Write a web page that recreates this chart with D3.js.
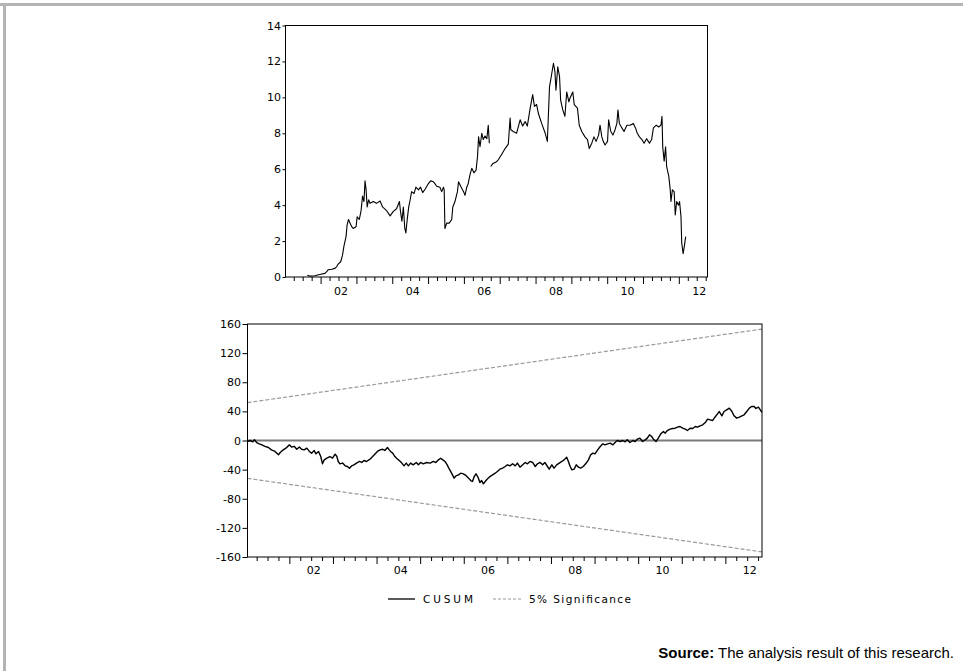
<!DOCTYPE html>
<html>
<head>
<meta charset="utf-8">
<script src="https://cdn.jsdelivr.net/npm/d3@7"></script>
<style>
  html, body { margin: 0; padding: 0; background: #fff; }
  svg { display: block; }
</style>
</head>
<body>
<svg id="chart" width="963" height="671"></svg>
<script>
// ---------------- DATA ----------------
// Top panel: series level (decimal year, value); null marks a gap in the line
const topYears = [2001.63,2001.70,2001.84,2002.00,2002.12,2002.17,2002.21,2002.31,2002.40,2002.45,2002.49,2002.56,2002.61,2002.65,2002.71,2002.74,2002.78,2002.82,2002.87,2002.91,2002.99,2003.02,2003.08,2003.13,2003.17,2003.21,2003.24,2003.27,2003.30,2003.34,2003.38,2003.47,2003.56,2003.66,2003.73,2003.84,2003.94,2004.03,2004.12,2004.20,2004.23,2004.27,2004.31,2004.35,2004.38,2004.42,2004.46,2004.50,2004.54,2004.61,2004.66,2004.73,2004.79,2004.85,2004.92,2005.01,2005.07,2005.15,2005.19,2005.24,2005.33,2005.38,2005.43,2005.45,2005.47,2005.52,2005.59,2005.66,2005.69,2005.75,2005.82,2005.85,2005.91,2005.99,2006.03,2006.08,2006.12,2006.17,2006.22,2006.28,2006.34,2006.38,2006.41,2006.45,2006.50,2006.54,2006.59,2006.64,2006.68,2006.71,2006.73,2006.75,2006.80,2006.90,2006.97,2007.06,2007.15,2007.24,2007.29,2007.31,2007.38,2007.47,2007.57,2007.64,2007.71,2007.77,2007.85,2007.92,2007.97,2008.03,2008.08,2008.17,2008.27,2008.33,2008.39,2008.43,2008.50,2008.54,2008.57,2008.62,2008.67,2008.70,2008.76,2008.82,2008.87,2008.93,2008.96,2009.04,2009.08,2009.17,2009.22,2009.29,2009.38,2009.45,2009.50,2009.57,2009.63,2009.69,2009.76,2009.80,2009.85,2009.89,2009.94,2010.01,2010.04,2010.10,2010.16,2010.22,2010.27,2010.30,2010.34,2010.41,2010.47,2010.55,2010.64,2010.73,2010.79,2010.84,2010.90,2010.97,2011.03,2011.10,2011.18,2011.24,2011.29,2011.37,2011.44,2011.50,2011.53,2011.55,2011.59,2011.63,2011.66,2011.72,2011.76,2011.78,2011.82,2011.87,2011.90,2011.94,2011.99,2012.02,2012.06,2012.08,2012.12,2012.16,2012.19];
const topValues = [0.10,0.05,0.07,0.15,0.20,0.30,0.40,0.43,0.48,0.58,0.72,0.85,1.20,1.70,2.25,2.90,3.20,3.00,2.80,2.70,2.80,3.35,3.20,3.70,4.50,4.20,5.35,4.85,3.90,4.30,4.10,4.20,4.10,4.23,3.90,3.70,3.40,3.65,3.80,4.20,3.65,3.10,3.90,2.70,2.45,3.25,3.90,4.30,4.75,4.65,5.00,4.85,5.00,4.70,4.90,5.20,5.35,5.30,5.20,5.05,5.00,4.75,5.00,4.85,2.70,3.00,3.00,3.20,3.90,4.20,4.75,5.30,5.05,4.75,4.55,5.00,5.20,5.70,6.05,5.80,5.95,6.70,7.80,7.25,8.00,7.65,7.85,7.70,8.45,7.45,null,6.15,6.30,6.40,6.55,6.85,7.15,7.40,8.85,8.20,8.10,8.00,8.75,8.40,8.65,8.40,9.40,10.15,9.50,9.60,9.10,8.55,8.00,7.55,10.60,11.05,11.90,11.45,10.40,11.70,11.15,9.85,9.30,8.95,10.30,9.75,9.95,10.30,9.60,9.40,8.45,8.10,7.80,7.65,7.15,7.45,7.80,7.55,7.90,8.45,7.80,7.55,7.35,7.55,8.75,8.10,7.90,8.20,8.55,9.30,8.55,8.30,8.10,8.45,8.45,8.55,8.30,8.00,7.80,7.65,7.45,7.70,7.45,7.65,8.30,8.45,8.35,8.45,8.95,7.25,6.45,7.25,6.15,5.60,4.85,4.20,4.85,4.75,3.45,4.20,4.00,4.20,3.35,1.90,1.30,1.80,2.25];

// Bottom panel: CUSUM (decimal year, value)
const cusumYears = [2001.04,2001.10,2001.16,2001.20,2001.25,2001.31,2001.37,2001.44,2001.52,2001.59,2001.67,2001.75,2001.79,2001.86,2001.92,2002.00,2002.05,2002.11,2002.17,2002.23,2002.28,2002.34,2002.40,2002.46,2002.51,2002.57,2002.61,2002.67,2002.72,2002.76,2002.80,2002.86,2002.93,2002.99,2003.05,2003.09,2003.12,2003.16,2003.22,2003.28,2003.33,2003.38,2003.43,2003.48,2003.54,2003.61,2003.66,2003.71,2003.77,2003.85,2003.91,2003.96,2004.02,2004.08,2004.14,2004.19,2004.25,2004.29,2004.32,2004.37,2004.42,2004.46,2004.52,2004.58,2004.63,2004.68,2004.73,2004.78,2004.84,2004.91,2004.96,2005.01,2005.07,2005.15,2005.23,2005.30,2005.36,2005.42,2005.47,2005.52,2005.57,2005.62,2005.67,2005.72,2005.78,2005.82,2005.88,2005.93,2005.99,2006.05,2006.11,2006.16,2006.20,2006.24,2006.28,2006.33,2006.37,2006.41,2006.45,2006.51,2006.56,2006.60,2006.66,2006.72,2006.77,2006.83,2006.89,2006.95,2007.00,2007.06,2007.12,2007.18,2007.23,2007.29,2007.35,2007.41,2007.46,2007.52,2007.58,2007.64,2007.69,2007.75,2007.81,2007.86,2007.92,2007.96,2008.02,2008.07,2008.13,2008.19,2008.25,2008.30,2008.36,2008.40,2008.44,2008.48,2008.53,2008.58,2008.63,2008.68,2008.74,2008.81,2008.86,2008.91,2008.96,2009.01,2009.07,2009.13,2009.19,2009.24,2009.30,2009.36,2009.42,2009.47,2009.52,2009.59,2009.65,2009.70,2009.75,2009.81,2009.88,2009.93,2009.98,2010.04,2010.10,2010.16,2010.21,2010.26,2010.31,2010.35,2010.41,2010.46,2010.52,2010.58,2010.62,2010.67,2010.73,2010.79,2010.85,2010.90,2010.96,2011.02,2011.08,2011.13,2011.19,2011.25,2011.31,2011.36,2011.42,2011.48,2011.54,2011.59,2011.65,2011.71,2011.76,2011.82,2011.86,2011.92,2011.97,2012.03,2012.09,2012.15,2012.20,2012.26,2012.32,2012.38,2012.43,2012.49,2012.55,2012.60,2012.66,2012.70,2012.76,2012.80,2012.84];
const cusumValues = [-1.4,0,-1.8,1,-3,-4.6,-6,-8,-9.6,-12.8,-15,-19.7,-16.5,-12.8,-10.5,-6,-9,-8,-12,-9,-12,-12.8,-10.5,-15,-17.4,-13.7,-18.3,-15,-22,-32,-26.6,-24.3,-22,-24.3,-18.8,-22,-28.8,-32,-31,-34.8,-35.7,-38,-34.8,-33.4,-31,-28.8,-30.2,-27.5,-28.8,-25.6,-22,-18.8,-15,-12.8,-12,-13.7,-9.6,-12.8,-15,-17.4,-22,-24.3,-27.5,-31,-34.8,-31,-34.8,-31,-33.4,-30.2,-33.4,-30.2,-32,-30.2,-31,-28.8,-30.2,-26.6,-24.3,-26.6,-28.8,-33.4,-39.4,-44.9,-51.7,-48.5,-47.2,-44.9,-45.8,-48,-51.7,-55,-56.3,-49.5,-45.8,-50.8,-57.7,-55,-59.5,-55,-51.7,-49.5,-47.2,-44.9,-42.6,-39.4,-38,-35.7,-33.4,-34.8,-32,-34.8,-31,-36.6,-33.4,-30.2,-32,-28.8,-30.2,-35.7,-32,-30.2,-33.4,-30.2,-35.7,-39.4,-33.4,-38,-33.4,-31,-28.8,-26.6,-22.9,-28.8,-35.7,-40.3,-39.4,-33.4,-36.6,-38,-35.7,-31,-26.6,-19.7,-17.4,-18.3,-12.8,-8.2,-4.6,-6,-4.6,-3.7,-6,-2.7,0,-1.4,0,-1.8,0.9,-2.7,0,-1.4,1.8,3.2,-1.4,0.9,3.2,7.8,5.5,1.8,-1.4,3.2,9.2,12.4,10.1,13.7,15.6,16.5,16.9,18.3,19.2,16.9,15.6,13.7,16.9,16.5,19.2,18.3,20.1,21.5,24.7,29.3,28.4,27.5,32,36.6,39.8,33.9,39.8,42.1,44.4,39.8,33.9,30.7,32,33.9,35.3,39.8,44.4,46.7,46.7,44,45.8,42.1,38.5];

// 5% significance bounds (straight lines between the sample ends)
const sigYears = [2001.04, 2012.84];
const sigUpper = [52, 153];
const sigLower = [-52, -153];

// Axis ticks and labels
const topYTicks = [0,2,4,6,8,10,12,14];
const bottomYTicks = [-160,-120,-80,-40,0,40,80,120,160];
const yearTicks = [2001,2002,2003,2004,2005,2006,2007,2008,2009,2010,2011,2012,2013];
const labelYears = [2002,2004,2006,2008,2010,2012];
const labelTexts = ["02","04","06","08","10","12"];
const legendLabels = ["CUSUM","5% Significance"];
const sourceBold = "Source:";
const sourceText = " The analysis result of this research.";

// ---------------- DRAW ----------------
const svg = d3.select("#chart");
const tickFont = "'DejaVu Sans', sans-serif";

svg.append("rect").attr("x",0).attr("y",0).attr("width",963).attr("height",671).attr("fill","#fff");
// outer grey frame (top and left)
svg.append("rect").attr("x",0).attr("y",3).attr("width",963).attr("height",3).attr("fill","#b4b4b4");
svg.append("rect").attr("x",3).attr("y",3).attr("width",3).attr("height",668).attr("fill","#b4b4b4");

function quarterTicks(dom) {
  const out = [];
  yearTicks.forEach(y => [0.25,0.5,0.75].forEach(q => {
    const v = y + q; if (v > dom[0] && v < dom[1]) out.push(v);
  }));
  return out;
}

function panel(cfg) {
  const x = d3.scaleLinear().domain(cfg.xDomain).range([cfg.left, cfg.right]);
  const y = d3.scaleLinear().domain(cfg.yDomain).range([cfg.bottom, cfg.top]);
  const g = svg.append("g");

  // y axis
  const ya = g.append("g").attr("transform", `translate(${cfg.left},0)`)
    .call(d3.axisLeft(y).tickValues(cfg.yTicks).tickSize(cfg.yTickSize).tickPadding(1.5)
      .tickFormat(d => String(d)));
  ya.select(".domain").remove();
  ya.selectAll("line").attr("stroke","#000");
  ya.selectAll("text").attr("font-family",tickFont).attr("font-size",11).attr("fill","#000");

  const dom = x.domain();
  const yrs = yearTicks.filter(v => v > dom[0] && v < dom[1]);
  // minor quarterly ticks
  const xm = g.append("g").attr("transform", `translate(0,${cfg.bottom})`)
    .call(d3.axisBottom(x).tickValues(quarterTicks(dom)).tickSize(4).tickFormat(""));
  xm.select(".domain").remove();
  xm.selectAll("line").attr("stroke","#000");
  // major yearly ticks
  const xM = g.append("g").attr("transform", `translate(0,${cfg.bottom})`)
    .call(d3.axisBottom(x).tickValues(yrs).tickSize(7).tickFormat(""));
  xM.select(".domain").remove();
  xM.selectAll("line").attr("stroke","#000");
  // labels centred on the year interval
  const xl = g.append("g").attr("transform", `translate(2,${cfg.bottom})`)
    .call(d3.axisBottom(x).tickValues(labelYears.map(v => v + 0.5)).tickSize(0).tickPadding(cfg.labelPad)
      .tickFormat((d,i) => labelTexts[i]));
  xl.select(".domain").remove();
  xl.selectAll("text").attr("font-family",tickFont).attr("font-size",11).attr("fill","#000");

  return {x, y, g};
}

// ---- Top panel
const P1 = panel({xDomain:[2001.02,2012.80], yDomain:[0,14], left:285.5, right:707.5, top:25.5, bottom:277,
                  yTicks:topYTicks, yTickSize:3, labelPad:10});
const topData = topYears.map((t,i) => ({t, v: topValues[i]}));
P1.g.append("path").datum(topData)
  .attr("fill","none").attr("stroke","#000").attr("stroke-width",1.1).attr("stroke-linejoin","round")
  .attr("d", d3.line().defined(d => d.v !== null).x(d => P1.x(d.t)).y(d => P1.y(d.v)));
P1.g.append("rect").attr("x",285.5).attr("y",25.5).attr("width",422).attr("height",251.5)
  .attr("fill","none").attr("stroke","#000").attr("stroke-width",1);

// ---- Bottom panel
const P2 = panel({xDomain:[2001.04,2012.84], yDomain:[-160,160], left:247.5, right:762, top:324, bottom:557,
                  yTicks:bottomYTicks, yTickSize:5, labelPad:9.5});
// zero line
P2.g.append("line").attr("x1",P2.x(2001.04)).attr("x2",P2.x(2012.84)).attr("y1",P2.y(0)).attr("y2",P2.y(0))
  .attr("stroke","#7a7a7a").attr("stroke-width",2);
const sigLine = d3.line().x(d => P2.x(d.t)).y(d => P2.y(d.v));
[sigUpper, sigLower].forEach(arr => {
  P2.g.append("path").datum(sigYears.map((t,i) => ({t, v: arr[i]})))
    .attr("fill","none").attr("stroke","#9a9a9a").attr("stroke-width",1.2).attr("stroke-dasharray","4,2")
    .attr("d", sigLine);
});
const cusumData = cusumYears.map((t,i) => ({t, v: cusumValues[i]}));
P2.g.append("path").datum(cusumData)
  .attr("fill","none").attr("stroke","#000").attr("stroke-width",1.4).attr("stroke-linejoin","round")
  .attr("d", d3.line().x(d => P2.x(d.t)).y(d => P2.y(d.v)));
P2.g.append("rect").attr("x",247.5).attr("y",324).attr("width",514.5).attr("height",233)
  .attr("fill","none").attr("stroke","#000").attr("stroke-width",1);

// ---- Legend
const lg = svg.append("g");
lg.append("line").attr("x1",388).attr("x2",415).attr("y1",599).attr("y2",599).attr("stroke","#000").attr("stroke-width",1.3);
lg.append("text").attr("x",423).attr("y",603).attr("font-family",tickFont).attr("font-size",10.5)
  .attr("textLength",50).attr("lengthAdjust","spacing").text(legendLabels[0]);
lg.append("line").attr("x1",493).attr("x2",523).attr("y1",599).attr("y2",599).attr("stroke","#9a9a9a")
  .attr("stroke-width",1.2).attr("stroke-dasharray","3,2");
lg.append("text").attr("x",529).attr("y",603).attr("font-family",tickFont).attr("font-size",10.5)
  .attr("textLength",102).attr("lengthAdjust","spacing").text(legendLabels[1]);

// ---- Source note
const st = svg.append("text").attr("x",954).attr("y",658).attr("text-anchor","end")
  .attr("font-family","'Liberation Sans', Arial, sans-serif").attr("font-size",15).attr("fill","#000");
st.append("tspan").attr("font-weight","bold").text(sourceBold);
st.append("tspan").text(sourceText);
</script>
</body>
</html>
